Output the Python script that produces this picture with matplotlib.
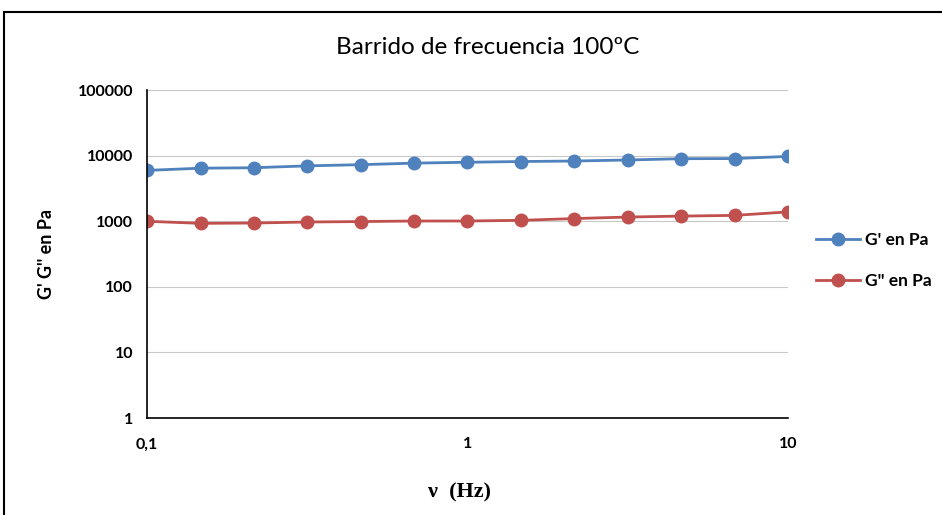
import numpy as np
import matplotlib.pyplot as plt
from matplotlib.patches import Rectangle
from matplotlib.ticker import FixedLocator, NullLocator

# frequency sweep at 100 C
freq = [0.1, 0.147, 0.215, 0.316, 0.464, 0.681, 1.0, 1.47, 2.15, 3.16, 4.64, 6.81, 10.0]
g1 = [5970, 6450, 6550, 7000, 7300, 7700, 7950, 8150, 8300, 8600, 9000, 9050, 9750]
g2 = [1000, 930, 940, 975, 990, 1010, 1010, 1035, 1100, 1160, 1200, 1230, 1390]

x_ticks = [0.1, 1, 10]
x_labels = ["0,1", "1", "10"]
y_ticks = [1, 10, 100, 1000, 10000, 100000]
y_labels = ["1", "10", "100", "1000", "10000", "100000"]

blue = "#4F81BD"
red = "#C0504D"

fig = plt.figure(figsize=(9.42, 5.15), dpi=100)
ax = fig.add_axes([0.156, 0.1883, 0.6805, 0.6367])

ax.plot(freq, g1, "-o", color=blue, lw=2, ms=9, label="G' en Pa")
ax.plot(freq, g2, "-o", color=red, lw=2, ms=9, label='G" en Pa')

ax.set_xscale("log")
ax.set_yscale("log")
ax.set_xlim(0.1, 10)
ax.set_ylim(1, 100000)
ax.xaxis.set_major_locator(FixedLocator(x_ticks))
ax.yaxis.set_major_locator(FixedLocator(y_ticks))
ax.xaxis.set_minor_locator(NullLocator())
ax.yaxis.set_minor_locator(NullLocator())
ax.set_xticklabels(x_labels, fontfamily="Lato", fontweight="bold", fontsize=11.5)
ax.set_yticklabels(y_labels, fontfamily="Lato", fontweight="bold", fontsize=11.5)
ax.tick_params(axis="both", length=0, pad=10)
ax.tick_params(axis="x", pad=14)

ax.grid(axis="y", color="#c8c8c8", lw=0.8)
ax.set_axisbelow(True)
for s in ["top", "right"]:
    ax.spines[s].set_visible(False)
ax.spines["left"].set_linewidth(1.2)
ax.spines["bottom"].set_linewidth(1.2)

ax.set_ylabel("G' G'' en Pa", fontfamily="Lato", fontweight="bold", fontsize=13, labelpad=16)

fig.text(0.518, 0.908, "Barrido de frecuencia 100ºC", ha="center", va="center",
         fontfamily="Lato", fontsize=17.5)
fig.text(0.488, 0.043, "ν  (Hz)", ha="center", va="center",
         fontfamily="Liberation Serif", fontweight="bold", fontsize=16)

ax.legend(loc="center left", bbox_to_anchor=(1.02, 0.48), frameon=False,
          prop={"family": "Lato", "weight": "bold", "size": 12.5},
          handlelength=2.5, labelspacing=1.4, handletextpad=0.3)

# outer chart border
fig.patches.append(Rectangle((0.004, -0.01), 1.5, 0.987, transform=fig.transFigure,
                             fill=False, edgecolor="black", lw=1.5))

fig.savefig("out.png", dpi=100)
